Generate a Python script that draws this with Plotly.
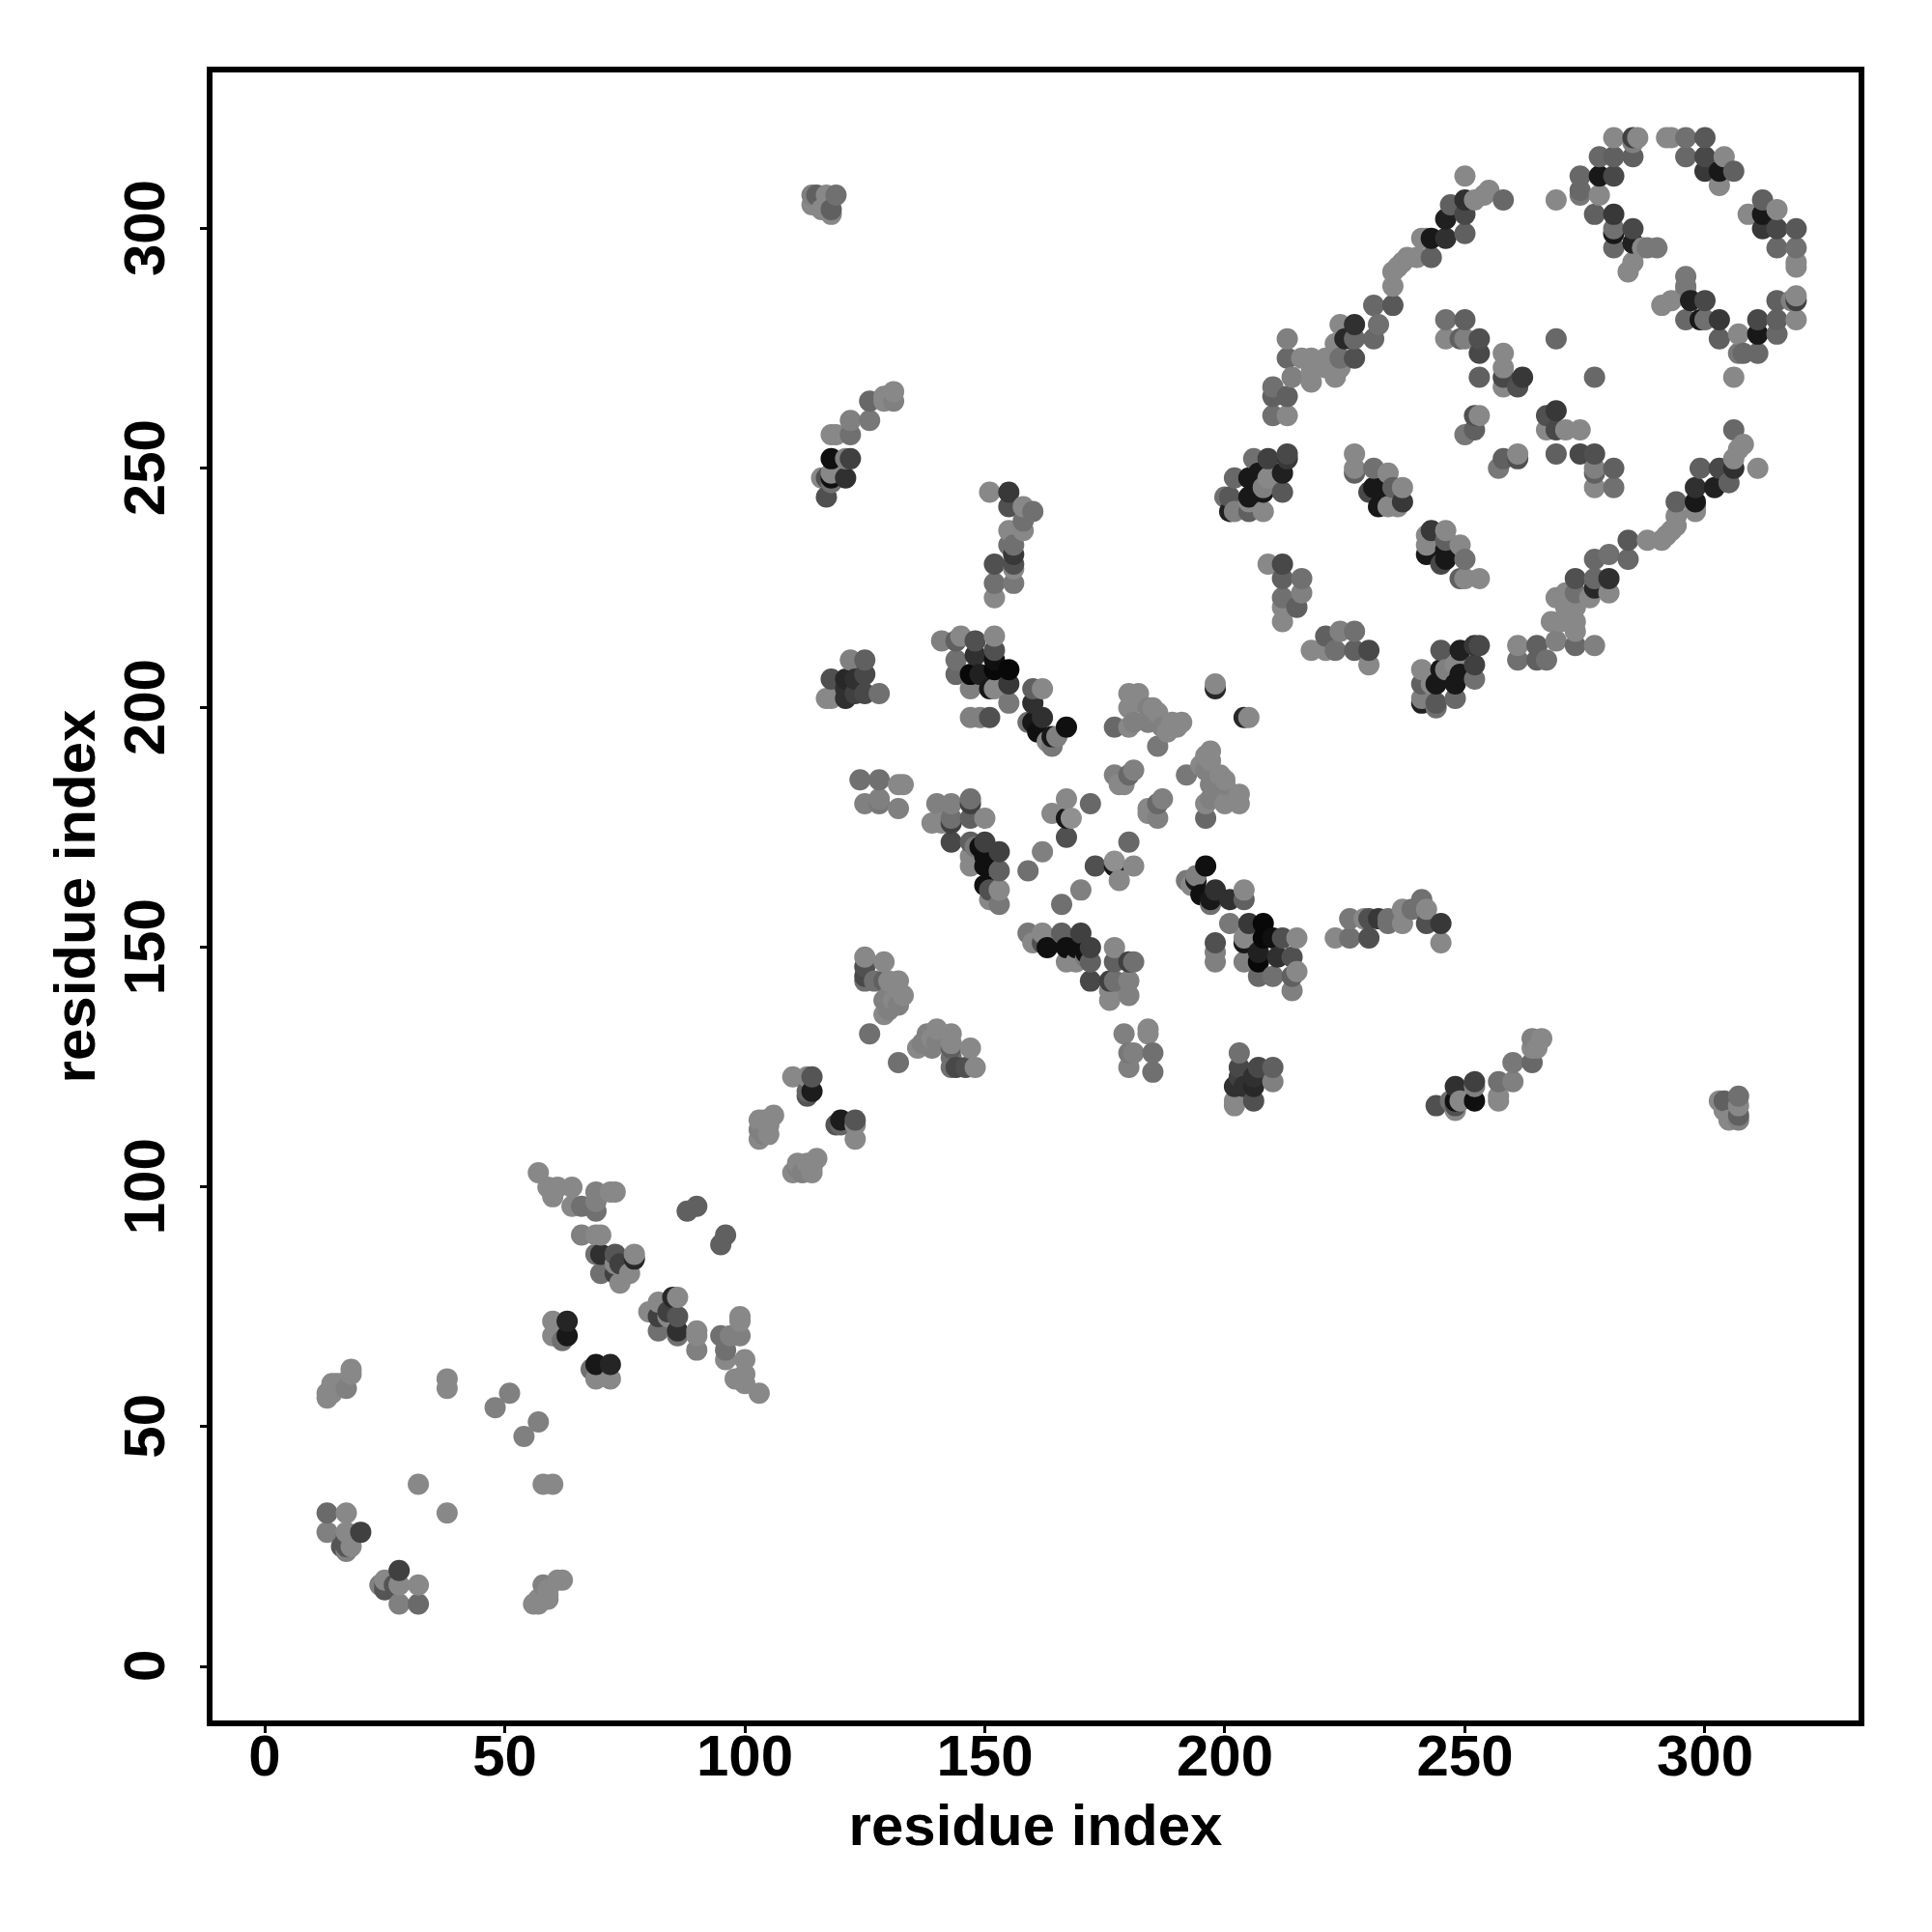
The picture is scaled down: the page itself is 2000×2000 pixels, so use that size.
import plotly.graph_objects as go

# contacts (i < j) with grey level of the point; map is symmetric
contacts_a = [
 (13,32,106),(13,28,128),(17,32,136),(16,25,85),(17,24,128),(17,25,85),(17,27,85),(20,28,64),(17,28,136),(18,25,136),
 (32,38,136),(38,58,136),(38,60,136),(48,54,128),(51,57,128),
 (13,56,136),(13,57,136),(14,57,136),(14,58,136),(15,59,136),(16,59,136),(17,58,128),(18,61,136),(18,62,136),(14,59,136),
 (62,68,112),(60,69,136),(63,69,24),(60,72,136),(63,72,37),
 (57,103,136),(59,100,136),(61,100,136),(60,98,136),(64,100,136),(64,96,136),(66,96,112),
 (69,95,112),(69,97,128),(69,99,128),(72,99,136),(73,99,136),(66,90,128),(69,90,136),(70,90,136),
 (69,86,112),(70,86,48),(70,82,112),(74,84,64),(73,86,85),(73,82,64),(77,85,40),(73,84,136),(76,82,136),(77,86,136),(74,80,136),
 (88,95,96),(90,96,96),
 (103,110,136),(103,112,128),(104,114,136),(105,113,136),(106,115,136),(104,111,128),(105,111,136),(103,114,136),
 (110,123,136),(113,119,85),(113,120,100),(114,120,28),(113,123,136),(114,123,85),
 (125,148,136),(125,146,80),(129,147,136),(125,143,112),(125,144,72),(127,143,112),(129,143,96),(130,143,136),(132,143,136),
 (129,139,128),(130,140,128),(133,140,136),(132,138,128),(129,136,136),(130,137,128),(131,139,136),(126,132,112),
]
contacts_b = [
 (122,210,128),(125,210,96),(118,206,80),(121,206,40),(123,206,48),(125,207,72),(121,204,48),(117,202,136),(118,202,136),(121,202,48),(123,203,64),(125,203,72),(128,203,112),
 (141,214,128),(144,214,96),(145,215,136),(148,214,80),(152,215,136),(144,210,112),(148,211,48),(152,212,80),(152,210,16),
 (144,207,104),(147,207,8),(149,207,32),(152,208,8),(155,208,8),(155,205,56),(147,204,128),(151,204,24),(152,204,136),(155,201,120),(147,198,128),(149,198,128),(151,198,80),
 (160,204,96),(162,204,136),(160,201,48),(162,198,48),(159,197,112),(160,197,24),(161,195,16),(164,194,24),(167,196,16),(165,194,128),(164,192,120),(163,193,136),
 (177,196,104),(180,203,136),(182,203,136),(180,200,136),(181,197,128),(180,196,136),(184,200,128),(185,200,136),(184,197,128),(186,199,136),(186,192,120),(187,196,128),(188,195,136),(189,197,136),(191,197,136),(190,196,136),
 (198,204,40),(198,205,136),
 (124,185,112),(128,185,112),(132,184,136),(133,184,136),(125,180,128),(128,181,128),(128,180,120),(132,179,128),
 (140,180,128),(143,180,128),(147,181,112),(147,180,64),(139,176,136),(141,176,136),(143,177,112),(143,176,64),(147,177,96),(150,177,136),
 (143,172,72),(147,172,96),(150,172,64),(149,171,16),(148,171,120),(153,170,64),(150,169,16),(147,169,136),(147,167,136),(150,167,16),(153,166,96),(150,163,16),(151,162,80),(153,162,136),(151,160,136),(153,159,120),
 (159,166,112),(162,170,128),(164,178,136),(167,173,80),(167,177,24),(168,177,144),(167,181,136),(172,180,104),
 (177,186,128),(178,184,136),(180,186,104),(181,187,128),(179,184,136),
]
contacts_c = [
 (114,307,128),(115,307,96),(117,307,136),(119,307,112),(114,305,136),(116,304,136),(118,304,96),(118,303,136),
 (126,264,104),(129,265,136),(131,266,136),(131,264,128),(129,264,136),(122,260,128),(126,260,120),(118,257,136),(119,257,136),(122,257,112),
 (118,252,16),(121,252,128),(122,252,64),(118,248,16),(117,248,80),(116,248,136),(118,247,112),(118,249,136),(121,248,48),(117,244,80),
 (151,245,136),(155,245,56),(155,242,80),(158,242,136),(160,241,112),(158,239,112),(158,237,136),(155,237,136),(155,234,112),(156,234,112),(156,232,56),(152,230,80),(156,230,80),(156,229,136),(152,226,112),(156,226,120),(152,223,136),
 (213,253,72),(213,252,56),(209,252,64),(206,252,112),(212,249,32),(207,249,24),(209,248,136),(205,248,24),(202,248,104),(212,245,88),(208,245,24),(208,246,128),(205,244,24),(201,244,88),(200,244,112),(201,241,32),(202,241,128),(205,241,96),(208,241,136),(205,243,136),
 (227,253,136),(227,250,136),(227,249,96),(231,250,112),(234,249,136),(231,246,24),(230,245,72),(233,246,24),(235,246,96),(237,246,136),(237,243,56),(232,242,24),(234,242,136),(236,242,136),
 (209,230,136),(212,230,72),(212,227,96),(216,227,112),(212,223,112),(216,224,128),(215,221,96),(212,221,136),(212,218,136),
 (210,261,112),(213,261,136),(210,265,96),(210,267,112),(213,265,96),(214,269,128),(213,273,104),(213,277,128),(216,273,136),(218,273,136),(218,270,136),(218,268,136),(221,273,136),(223,269,136),(221,271,136),(224,271,136),(224,273,112),(227,273,80),
 (225,277,40),(223,276,136),(224,280,136),(227,280,48),(227,277,104),(231,277,104),(232,280,112),(231,284,104),(235,284,88),(235,288,136),(235,291,136),(236,292,136),(237,293,136),(238,294,136),(240,294,136),(243,294,96),
 (241,298,136),(243,298,24),(242,298,136),(246,298,48),(246,302,32),(250,299,96),(247,305,96),(250,303,72),(250,306,48),(250,311,136),(252,306,136),(254,307,136),(255,308,136),(258,306,104),
 (269,306,136),(274,311,104),(274,308,104),(274,307,120),(278,311,24),(278,315,104),(281,311,72),(281,315,96),(281,319,136),(285,315,96),(285,319,64),(286,319,136),(285,318,128),
 (278,307,136),(277,303,96),(281,303,56),(281,299,24),(281,300,112),(281,296,104),(285,300,72),(285,297,32),(287,296,136),(288,296,120),(290,296,120),(285,293,136),(284,291,136),
 (292,319,136),(293,319,136),(296,319,112),(300,319,88),(296,315,104),(300,315,72),(300,312,56),(303,312,24),(304,315,136),(306,312,96),(303,309,136),
 (246,281,112),(250,281,96),(246,277,136),(249,277,96),(250,277,128),(253,277,80),(253,274,72),(253,269,96),(258,274,136),(258,271,136),(258,269,72),(258,267,136),(262,269,56),(261,267,80),(269,277,104),
 (252,261,80),(253,261,136),(252,258,96),(250,257,120),
]

all_contacts = contacts_a + contacts_b + contacts_c
both_sides = sorted(all_contacts + [(j, i, g) for i, j, g in all_contacts])
res_x = [c[0] for c in both_sides]
res_y = [c[1] for c in both_sides]
grey = [c[2] for c in both_sides]
tick_values = [0, 50, 100, 150, 200, 250, 300]
x_tick_labels = ["0", "50", "100", "150", "200", "250", "300"]
y_tick_labels = ["0\u00a0", "50\u00a0", "100\u00a0", "150\u00a0", "200\u00a0", "250\u00a0", "300\u00a0"]
axis_label = "residue index"

fig = go.Figure(go.Scatter(
    x=res_x, y=res_y, mode="markers",
    marker=dict(size=22, color=grey, cmin=0, cmax=255,
                colorscale=[[0, "rgb(0,0,0)"], [1, "rgb(255,255,255)"]],
                line=dict(width=0), showscale=False),
    showlegend=False, hoverinfo="skip"))

font = dict(family="Liberation Sans", size=60, color="black", weight="bold")
axis = dict(showgrid=False, zeroline=False, showline=True, linewidth=6, linecolor="black", mirror=True,
            ticks="outside", ticklen=7, tickwidth=3, tickcolor="black", tickvals=tick_values,
            tickfont=font)
fig.update_layout(
    width=2000, height=2000, autosize=False, paper_bgcolor="white", plot_bgcolor="white",
    margin=dict(l=220, r=76, t=74.5, b=219),
    xaxis=dict(axis, range=[-10.87, 332.0], ticklabelstandoff=-28, ticktext=x_tick_labels,
               title=dict(text=axis_label, font=font, standoff=20)),
    yaxis=dict(axis, range=[-11.28, 332.6], tickangle=-90, ticklabelstandoff=13, ticktext=y_tick_labels,
               title=dict(text=axis_label, font=font, standoff=0)),
)
fig.write_html("out.html", config=dict(displayModeBar=False), post_script="document.body.style.margin='0';")
